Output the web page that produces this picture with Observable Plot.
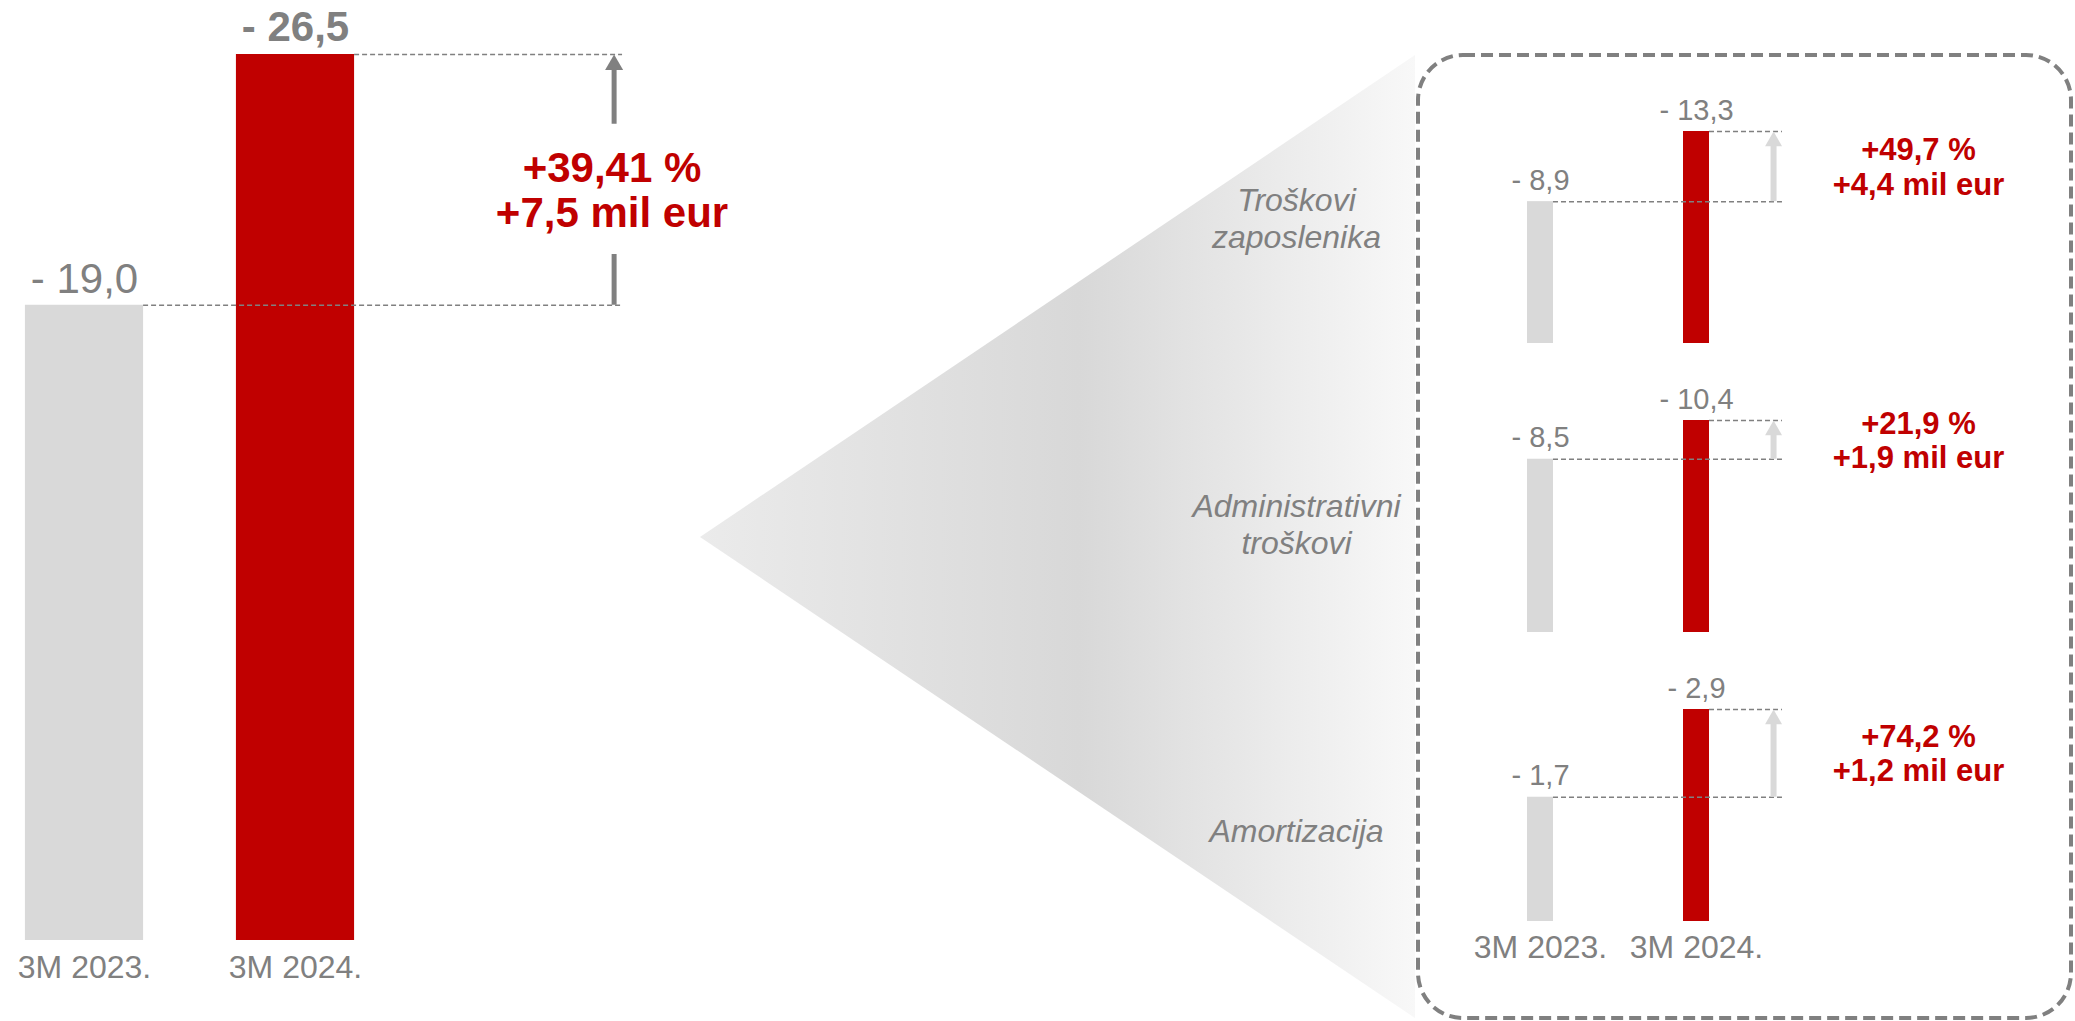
<!DOCTYPE html>
<html><head><meta charset="utf-8">
<script src="https://cdn.jsdelivr.net/npm/d3@7"></script>
<script src="https://cdn.jsdelivr.net/npm/@observablehq/plot@0.6"></script>
<style>
html,body{margin:0;padding:0;background:#fff;}
#root{position:relative;width:2075px;height:1021px;overflow:hidden;font-family:"Liberation Sans",Arial,sans-serif;}
#root > *{position:absolute;}
#root svg{max-width:none;overflow:visible;}
</style></head><body><div id="root"></div>
<script>
// ---- data ----
const periods = ["3M 2023.", "3M 2024."];
const totalValues = [19.0, 26.5];
const totalPct = ["+39,41 %"];
const totalAbs = ["+7,5 mil eur"];
const categories = ["Troškovi zaposlenika", "Administrativni troškovi", "Amortizacija"];
const categoryLines = ["Troškovi\nzaposlenika", "Administrativni\ntroškovi", "Amortizacija"];
const values2023 = [8.9, 8.5, 1.7];
const values2024 = [13.3, 10.4, 2.9];
const changePct = ["+49,7 %", "+21,9 %", "+74,2 %"];
const changeAbs = ["+4,4 mil eur", "+1,9 mil eur", "+1,2 mil eur"];

// ---- styles ----
const GRAY = "#d9d9d9", RED = "#c00000", TXT = "#808080", FONT = "'Liberation Sans', Arial, sans-serif";
const fmt = v => "- " + v.toFixed(1).replace(".", ",");
const root = document.getElementById("root");
function place(node, left, top) { node.style.left = left + "px"; node.style.top = top + "px"; root.appendChild(node); }

// ---- background: gradient wedge and dashed frame (decoration) ----
const bg = d3.create("svg").attr("width", 2075).attr("height", 1021);
const grad = bg.append("defs").append("linearGradient").attr("id", "wedge")
  .attr("gradientUnits", "userSpaceOnUse").attr("x1", 700).attr("x2", 1415).attr("y1", 0).attr("y2", 0);
grad.append("stop").attr("offset", "0").attr("stop-color", "#ebebeb");
grad.append("stop").attr("offset", "0.53").attr("stop-color", "#d8d8d8");
grad.append("stop").attr("offset", "1").attr("stop-color", "#f8f8f8");
bg.append("polygon").attr("points", "700,537 1415,55 1415,1018").attr("fill", "url(#wedge)");
bg.append("rect").attr("x", 1418).attr("y", 55).attr("width", 653).attr("height", 963).attr("rx", 45)
  .attr("fill", "none").attr("stroke", TXT).attr("stroke-width", 4).attr("stroke-dasharray", "12,6");
place(bg.node(), 0, 0);

// ---- main comparison ----
const mainData = periods.map((p, i) => ({i, period: p, value: totalValues[i]}));
const mainAnn = [{from: totalValues[0], to: totalValues[1], pct: totalPct[0], abs: totalAbs[0]}];
const hw = 0.28;
const main = Plot.plot({
  width: 720, height: 1021,
  marginTop: 54, marginBottom: 81, marginLeft: 84, marginRight: 425,
  style: {fontFamily: FONT, fontSize: "32px", color: TXT, background: "transparent", overflow: "visible"},
  x: {domain: [0, 1], label: null},
  y: {domain: [0, d3.max(totalValues)], axis: null},
  marks: [
    Plot.rectY(mainData.filter(d => d.i === 0), {x1: d => d.i - hw, x2: d => d.i + hw, y: "value", fill: GRAY}),
    Plot.rectY(mainData.filter(d => d.i === 1), {x1: d => d.i - hw, x2: d => d.i + hw, y: "value", fill: RED}),
    Plot.ruleY(mainData, {y: "value", x1: d => d.i + hw, x2: 2.55, stroke: TXT, strokeWidth: 1.6, strokeDasharray: "5,3"}),
    Plot.ruleX(mainAnn, {x: 2.51, y1: "to", y2: "from", insetTop: 15, insetBottom: 181, stroke: TXT, strokeWidth: 5}),
    Plot.ruleX(mainAnn, {x: 2.51, y1: "to", y2: "from", insetTop: 200, stroke: TXT, strokeWidth: 5}),
    Plot.dot(mainAnn, {x: 2.51, y: "to", symbol: "triangle", r: 6.7, fill: TXT, stroke: "none", dy: 10.4}),
    Plot.text(mainAnn, {x: 2.5, y: d => (d.from + d.to) / 2, text: d => d.pct + "\n" + d.abs, fill: RED, fontWeight: "bold", fontSize: 42, lineHeight: 1.07, dy: 10}),
    Plot.text(mainData.filter(d => d.i === 0), {x: "i", y: "value", text: d => fmt(d.value), lineAnchor: "bottom", dy: -12, fontSize: 42, fill: TXT}),
    Plot.text(mainData.filter(d => d.i === 1), {x: "i", y: "value", text: d => fmt(d.value), lineAnchor: "bottom", dy: -14, fontSize: 42, fill: TXT, fontWeight: "bold"}),
    Plot.axisX({ticks: [0, 1], tickFormat: i => periods[i], tickSize: 0, tickPadding: 15, fontSize: 32, color: TXT, label: null})
  ]
});
place(main, 0, 0);

// ---- category labels beside the wedge ----
const labels = Plot.plot({
  width: 300, height: 1021,
  marginTop: 217, marginBottom: 1021 - 829, marginLeft: 0, marginRight: 0,
  style: {fontFamily: FONT, background: "transparent", overflow: "visible"},
  y: {type: "point", domain: categories, padding: 0, axis: null},
  marks: [
    Plot.text(categories, {y: d => d, text: (d, i) => categoryLines[i], frameAnchor: "middle", fontSize: 32, fontStyle: "italic", fill: TXT, lineHeight: 1.18})
  ]
});
place(labels, 1146, 0);

// ---- breakdown panels ----
const phw = 0.0833;
categories.forEach((cat, k) => {
  const pd = [{i: 0, value: values2023[k]}, {i: 1, value: values2024[k]}];
  const ann = [{from: values2023[k], to: values2024[k], pct: changePct[k], abs: changeAbs[k]}];
  const bottom = 343 + 289 * k, top = 131 + 289 * k;
  const marks = [
    Plot.rectY(pd.filter(d => d.i === 0), {x1: d => d.i - phw, x2: d => d.i + phw, y: "value", fill: GRAY}),
    Plot.rectY(pd.filter(d => d.i === 1), {x1: d => d.i - phw, x2: d => d.i + phw, y: "value", fill: RED}),
    Plot.ruleY(pd, {y: "value", x1: d => d.i + phw, x2: 1.551, stroke: TXT, strokeWidth: 1.5, strokeDasharray: "5,3"}),
    Plot.ruleX(ann, {x: 1.494, y1: "to", y2: "from", insetTop: 14, stroke: GRAY, strokeWidth: 6}),
    Plot.dot(ann, {x: 1.494, y: "to", symbol: "triangle", r: 6.3, fill: GRAY, stroke: "none", dy: 9.8}),
    Plot.text(ann, {x: 2.423, y: d => (d.from + d.to) / 2, text: d => d.pct + "\n" + d.abs, fill: RED, fontWeight: "bold", fontSize: 31, lineHeight: 1.1}),
    Plot.text(pd, {x: "i", y: "value", text: d => fmt(d.value), lineAnchor: "bottom", dy: -12, fontSize: 29, fill: TXT})
  ];
  if (k === categories.length - 1) {
    marks.push(Plot.axisX({ticks: [0, 1], tickFormat: i => periods[i], tickSize: 0, tickPadding: 14, fontSize: 32, color: TXT, label: null}));
  }
  const panel = Plot.plot({
    width: 655, height: 1021,
    marginTop: top, marginBottom: 1021 - bottom, marginLeft: 120, marginRight: 379,
    style: {fontFamily: FONT, fontSize: "32px", color: TXT, background: "transparent", overflow: "visible"},
    x: {domain: [0, 1], axis: null, label: null},
    y: {domain: [0, d3.max(pd, d => d.value)], axis: null},
    marks
  });
  place(panel, 1420, 0);
});
</script></body></html>
